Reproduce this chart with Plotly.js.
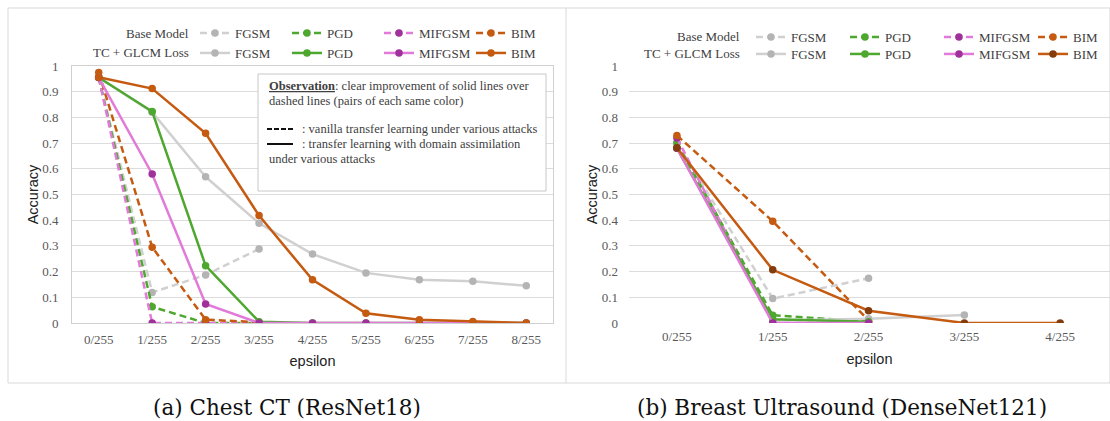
<!DOCTYPE html>
<html>
<head>
<meta charset="utf-8">
<script src="https://cdn.plot.ly/plotly-3.0.1.min.js"></script>
<style>html,body{margin:0;padding:0;background:#fff;overflow:hidden;width:1110px;height:421px;}#chart{width:1110px;height:421px;overflow:hidden;}</style>
</head>
<body>
<div id="chart"></div>
<script>
// ---- data ----
const chestEps = ['0/255','1/255','2/255','3/255','4/255','5/255','6/255','7/255','8/255'];
const chestBaseFGSM   = [0.955, 0.119, 0.187, 0.288];
const chestBasePGD    = [0.955, 0.063, 0.0, 0.0];
const chestBaseMIFGSM = [0.955, 0.0, 0.0, 0.0];
const chestBaseBIM    = [0.975, 0.295, 0.013, 0.003];
const chestTcFGSM     = [0.955, 0.82, 0.569, 0.388, 0.268, 0.195, 0.168, 0.162, 0.145];
const chestTcPGD      = [0.955, 0.823, 0.223, 0.005, 0.0, 0.0, 0.0, 0.0, 0.0];
const chestTcMIFGSM   = [0.955, 0.58, 0.074, 0.0, 0.0, 0.0, 0.0, 0.0, 0.0];
const chestTcBIM      = [0.956, 0.912, 0.738, 0.418, 0.168, 0.038, 0.013, 0.006, 0.0];

const breastEps = ['0/255','1/255','2/255','3/255','4/255'];
const breastBaseFGSM   = [0.70, 0.095, 0.174];
const breastBasePGD    = [0.70, 0.030, 0.005];
const breastBaseMIFGSM = [0.72, 0.0, 0.0];
const breastBaseBIM    = [0.730, 0.396, 0.01];
const breastTcFGSM     = [0.68, 0.01, 0.017, 0.031];
const breastTcPGD      = [0.68, 0.015, 0.005];
const breastTcMIFGSM   = [0.68, 0.0, 0.0];
const breastTcBIM      = [0.682, 0.207, 0.048, 0.0, 0.0];

const attackNames = ['FGSM','PGD','MIFGSM','BIM'];
const rowLabels = ['Base Model','TC + GLCM Loss'];
const yTicks = [0,0.1,0.2,0.3,0.4,0.5,0.6,0.7,0.8,0.9,1];
const yTickText = ['0','0.1','0.2','0.3','0.4','0.5','0.6','0.7','0.8','0.9','1'];
const captions = ['(a) Chest CT (ResNet18)','(b) Breast Ultrasound (DenseNet121)'];

// ---- styling ----
const W = 1110, H = 421;
const X = px => px / W;
const Y = py => 1 - py / H;
const serif = "'Liberation Serif', 'Times New Roman', serif";
const sans = "'Liberation Sans', Arial, sans-serif";

const lineCol = {FGSM:'#d0d0d0', PGD:'#4ea72e', MIFGSM:'#e27ad9', BIM:'#c55a11'};
const markCol = {FGSM:'#b4b4b4', PGD:'#4ea72e', MIFGSM:'#a0309a', BIM:'#c55a11'};

function tr(x, y, name, dashed, xa, ya, legend, markerColor){
  const t = {
    x: x.slice(0, y.length), y: y, name: name, type: 'scatter', mode: 'lines+markers',
    xaxis: xa, yaxis: ya, legend: legend,
    line: {color: lineCol[name], width: 2.5, dash: dashed ? '7px,4px' : 'solid'},
    marker: {color: markerColor || markCol[name], size: 7.5},
    hoverinfo: 'skip'
  };
  if (name === 'BIM') t.legendwidth = 24;
  return t;
}

const data = [
  tr(chestEps, chestBaseFGSM, 'FGSM', true, 'x', 'y', 'legend'),
  tr(chestEps, chestBasePGD, 'PGD', true, 'x', 'y', 'legend'),
  tr(chestEps, chestBaseMIFGSM, 'MIFGSM', true, 'x', 'y', 'legend'),
  tr(chestEps, chestBaseBIM, 'BIM', true, 'x', 'y', 'legend'),
  tr(chestEps, chestTcFGSM, 'FGSM', false, 'x', 'y', 'legend2'),
  tr(chestEps, chestTcPGD, 'PGD', false, 'x', 'y', 'legend2'),
  tr(chestEps, chestTcMIFGSM, 'MIFGSM', false, 'x', 'y', 'legend2'),
  tr(chestEps, chestTcBIM, 'BIM', false, 'x', 'y', 'legend2'),
  tr(breastEps, breastBaseFGSM, 'FGSM', true, 'x2', 'y2', 'legend3'),
  tr(breastEps, breastBasePGD, 'PGD', true, 'x2', 'y2', 'legend3'),
  tr(breastEps, breastBaseMIFGSM, 'MIFGSM', true, 'x2', 'y2', 'legend3'),
  tr(breastEps, breastBaseBIM, 'BIM', true, 'x2', 'y2', 'legend3'),
  tr(breastEps, breastTcFGSM, 'FGSM', false, 'x2', 'y2', 'legend4'),
  tr(breastEps, breastTcPGD, 'PGD', false, 'x2', 'y2', 'legend4'),
  tr(breastEps, breastTcMIFGSM, 'MIFGSM', false, 'x2', 'y2', 'legend4'),
  tr(breastEps, breastTcBIM, 'BIM', false, 'x2', 'y2', 'legend4', '#843c0c')
];

const tickFont = {family: serif, size: 13, color: '#595959'};
const titleFont = {family: sans, size: 14.5, color: '#222'};

function xax(domain, cats, range, box){
  return {
    domain: domain, type: 'category', categoryorder: 'array', categoryarray: cats,
    range: range, showgrid: false, zeroline: false, ticks: '', tickfont: tickFont,
    ticklabelstandoff: 4, showline: box, mirror: box, linecolor: '#d0d0d0', linewidth: 1,
    title: {text: 'epsilon', font: titleFont, standoff: 10}, automargin: false, fixedrange: true
  };
}
function yax(domain, anchor, box){
  return {
    domain: domain, anchor: anchor, range: [0, 1], tickvals: yTicks, ticktext: yTickText,
    showgrid: true, gridcolor: '#dcdcdc', gridwidth: 1, zeroline: false, ticks: '',
    tickfont: tickFont, ticklabelstandoff: 10, showline: box, mirror: box,
    linecolor: '#d0d0d0', linewidth: 1,
    title: {text: 'Accuracy', font: titleFont, standoff: 0}, automargin: false, fixedrange: true
  };
}

const yDom = [Y(323), Y(66)];
const legFont = {family: serif, size: 13, color: '#404040'};
function leg(px, py, ew){
  return {orientation: 'h', x: X(px), y: Y(py), xanchor: 'left', yanchor: 'middle',
    xref: 'paper', yref: 'paper', font: legFont, bgcolor: 'rgba(0,0,0,0)',
    entrywidth: ew, entrywidthmode: 'pixels', itemclick: false, itemdoubleclick: false,
    traceorder: 'normal', tracegroupgap: 0, itemwidth: 30};
}

const ann = [];
function txt(px, py, s, opts){
  ann.push(Object.assign({xref: 'paper', yref: 'paper', x: X(px), y: Y(py), text: s,
    showarrow: false, xanchor: 'left', yanchor: 'middle',
    font: {family: serif, size: 12.5, color: '#404040'}}, opts || {}));
}
// legend row labels
txt(191, 33, rowLabels[0], {xanchor: 'right', font: legFont});
txt(191, 53, rowLabels[1], {xanchor: 'right', font: legFont});
txt(742, 37, rowLabels[0], {xanchor: 'right', font: legFont});
txt(742, 54, rowLabels[1], {xanchor: 'right', font: legFont});
// observation box text
txt(267, 86, '<b><u>Observation</u></b>: clear improvement of solid lines over');
txt(267, 101, 'dashed lines (pairs of each same color)');
txt(300, 129, ': vanilla transfer learning under various attacks');
txt(300, 144, ': transfer learning with domain assimilation');
txt(267, 159, 'under various attacks');
// captions
const capFont = {family: 'DejaVu Serif, serif', size: 21.5, color: '#111'};
txt(287, 407, captions[0], {xanchor: 'center', font: capFont});
txt(842, 407, captions[1], {xanchor: 'center', font: capFont});

const shapes = [
  // panel frames
  {type: 'rect', xref: 'paper', yref: 'paper', x0: X(8), x1: X(1110), y0: Y(383), y1: Y(8),
   line: {color: '#d9d9d9', width: 1}, layer: 'below'},
  {type: 'line', xref: 'paper', yref: 'paper', x0: X(566), x1: X(566), y0: Y(383), y1: Y(8),
   line: {color: '#d9d9d9', width: 1}, layer: 'below'},
  // observation box
  {type: 'rect', xref: 'paper', yref: 'paper', x0: X(258), x1: X(546), y0: Y(191), y1: Y(74),
   line: {color: '#c8c8c8', width: 1}, fillcolor: '#ffffff', layer: 'above'},
  {type: 'line', xref: 'paper', yref: 'paper', x0: X(267), x1: X(293), y0: Y(129), y1: Y(129),
   line: {color: '#111', width: 2, dash: '5px,2px'}},
  {type: 'line', xref: 'paper', yref: 'paper', x0: X(267), x1: X(293), y0: Y(144), y1: Y(144),
   line: {color: '#111', width: 2}}
];

const layout = {
  width: W, height: H, margin: {l: 0, r: 0, t: 0, b: 0},
  paper_bgcolor: '#fff', plot_bgcolor: 'rgba(0,0,0,0)', showlegend: true,
  xaxis: xax([X(72), X(553)], chestEps, [-0.5, 8.5], true),
  yaxis: yax(yDom, 'x', true),
  xaxis2: Object.assign(xax([X(629), 1], breastEps, [-0.5, 4.52], false), {anchor: 'y2'}),
  yaxis2: yax(yDom, 'x2', false),
  legend: leg(195, 33, 47), legend2: leg(195, 53, 47),
  legend3: leg(751, 37, 49), legend4: leg(751, 54, 49),
  annotations: ann, shapes: shapes
};

Plotly.newPlot('chart', data, layout, {staticPlot: true, displayModeBar: false});
</script>
</body>
</html>
